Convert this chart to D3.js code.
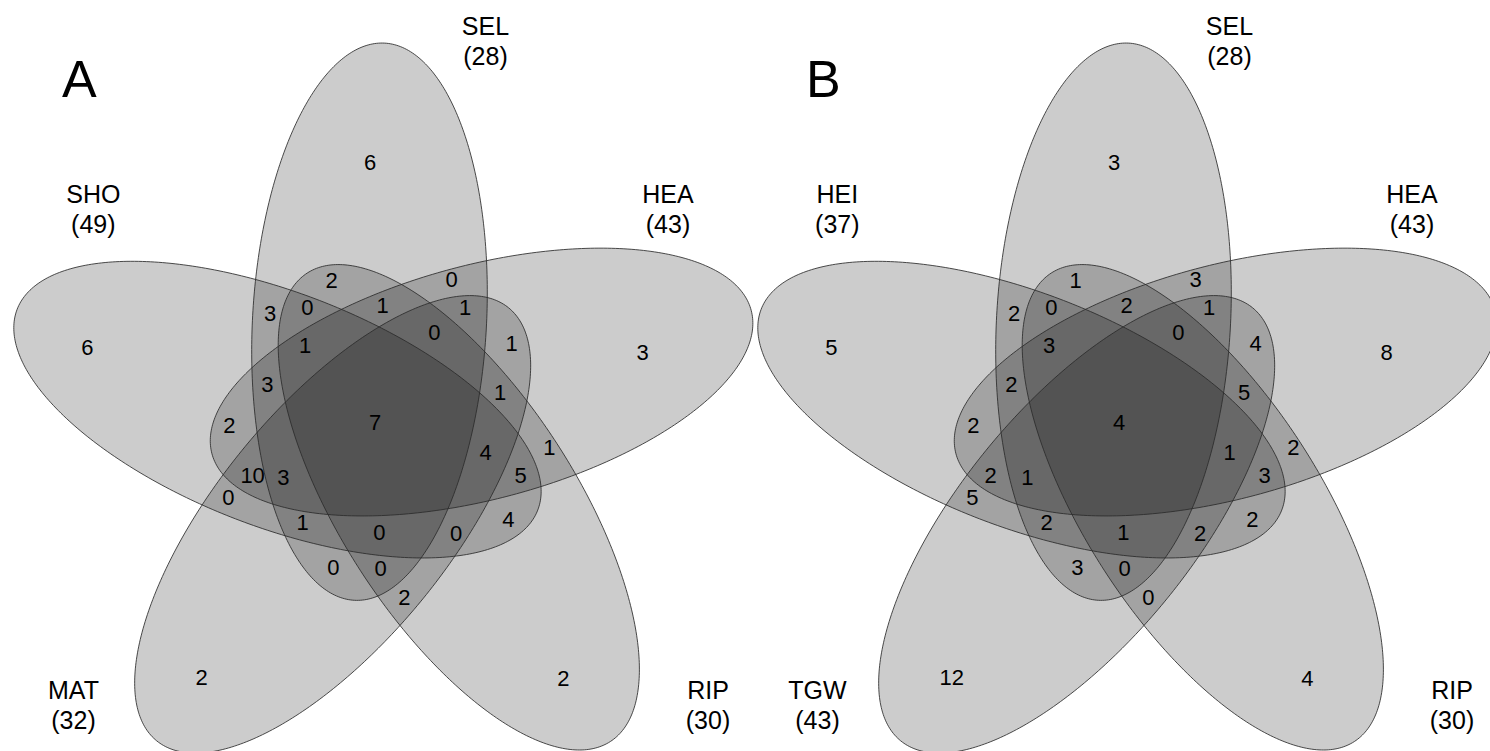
<!DOCTYPE html>
<html><head><meta charset="utf-8">
<script src="https://cdn.jsdelivr.net/npm/d3@7"></script>
<style>html,body{margin:0;padding:0;background:#fff;} svg{display:block;}</style>
</head><body>
<svg id="chart" width="1490" height="751"></svg>
<script>
// ---------------- DATA ----------------
const panelLetters = ["A", "B"];
const setNamesA = ["SEL", "HEA", "RIP", "MAT", "SHO"];
const setSizesA = [28, 43, 30, 32, 49];
const setNamesB = ["SEL", "HEA", "RIP", "TGW", "HEI"];
const setSizesB = [28, 43, 30, 43, 37];
// region counts, in the order of the region layout below
const regionCountsA = [6, 2, 0, 3, 0, 1, 1, 0, 1, 1, 6, 3, 3, 1, 2, 7, 1, 4, 10, 3, 5, 0, 4, 1, 0, 0, 0, 0, 2, 2, 2];
const regionCountsB = [3, 1, 3, 2, 0, 2, 1, 0, 3, 4, 5, 8, 2, 5, 2, 4, 2, 1, 2, 1, 3, 5, 2, 2, 1, 2, 3, 0, 0, 12, 4];

// ---------------- LAYOUT (panel-local units) ----------------
const regionLabelX = [370, 331.7, 451.7, 270, 307.3, 382.7, 465, 434.3, 305, 511.7, 87.3, 642.7, 267.3, 500, 229.3, 375, 549.3, 485.7, 246.5, 283.3, 520.7, 228.3, 508.3, 302.7, 379.3, 456, 333.3, 380.7, 404.3, 201.7, 563.3];
const regionLabelY = [161.7, 280, 279.3, 313.3, 307.3, 305, 307.3, 331.7, 345, 343.3, 347.3, 351.7, 384, 391.7, 425, 421.7, 446.7, 452.3, 475, 476.7, 475, 496.7, 519, 522.3, 531.7, 533.3, 567.3, 568.3, 596.7, 676.7, 678.3];
const setLabelX = [485.5, 668, 708, 73.5, 93.3];
const setLabelY = [35, 203, 699, 698.5, 202.7];
const panelOffsets = [0, 744];

const W = 745, H = 751;
const center = [384, 429];
const ellOffset = [-14.5, -107.3];
const semiMinor = 117, semiMajor = 279, tiltDeg = 3.1;

const svg = d3.select("#chart");
svg.append("rect").attr("width", 1490).attr("height", 751).attr("fill", "#fff");

const numFont = 22, setFont = 25, letterFont = 52;
const fam = "'Liberation Sans', Arial, Helvetica, sans-serif";

function ellipsePoints(k) {
  const phi = 72 * k * Math.PI / 180;
  const cx = center[0] + ellOffset[0] * Math.cos(phi) - ellOffset[1] * Math.sin(phi);
  const cy = center[1] + ellOffset[0] * Math.sin(phi) + ellOffset[1] * Math.cos(phi);
  const ang = tiltDeg * Math.PI / 180 + phi;
  const m = [Math.sin(ang), -Math.cos(ang)];
  const n = [Math.cos(ang), Math.sin(ang)];
  return d3.range(0, 360, 1).map(d => {
    const t = d * Math.PI / 180;
    return [cx + semiMajor * Math.sin(t) * m[0] + semiMinor * Math.cos(t) * n[0],
            cy + semiMajor * Math.sin(t) * m[1] + semiMinor * Math.cos(t) * n[1]];
  });
}

const panels = [
  {letter: panelLetters[0], names: setNamesA, sizes: setSizesA, counts: regionCountsA, off: panelOffsets[0]},
  {letter: panelLetters[1], names: setNamesB, sizes: setSizesB, counts: regionCountsB, off: panelOffsets[1]}
];

panels.forEach(p => {
  const x = d3.scaleLinear().domain([0, W]).range([p.off, p.off + W]);
  const y = d3.scaleLinear().domain([0, H]).range([0, H]);
  const g = svg.append("g");
  const line = d3.line().x(d => x(d[0])).y(d => y(d[1])).curve(d3.curveLinearClosed);

  g.selectAll("path.fill").data(d3.range(5)).join("path")
    .attr("d", k => line(ellipsePoints(k)))
    .attr("fill", "#000").attr("fill-opacity", 0.2).attr("stroke", "none");
  g.selectAll("path.edge").data(d3.range(5)).join("path")
    .attr("d", k => line(ellipsePoints(k)))
    .attr("fill", "none").attr("stroke", "#2b2b2b").attr("stroke-width", 1).attr("stroke-opacity", 0.85);

  g.selectAll("text.count").data(p.counts).join("text")
    .attr("x", (d, i) => x(regionLabelX[i]) - 0.278 * numFont)
    .attr("y", (d, i) => y(regionLabelY[i]) + 0.358 * numFont)
    .attr("font-family", fam).attr("font-size", numFont).attr("fill", "#000")
    .text(d => d);

  p.names.forEach((nm, i) => {
    const t = g.append("text").attr("font-family", fam).attr("font-size", setFont)
      .attr("text-anchor", "middle").attr("fill", "#000");
    t.append("tspan").attr("x", x(setLabelX[i])).attr("y", y(setLabelY[i])).text(nm);
    t.append("tspan").attr("x", x(setLabelX[i])).attr("y", y(setLabelY[i]) + 30).text("(" + p.sizes[i] + ")");
  });

  g.append("text").attr("x", x(62)).attr("y", y(96.7))
    .attr("font-family", fam).attr("font-size", letterFont).attr("fill", "#000")
    .text(p.letter);
});
</script>
</body></html>
